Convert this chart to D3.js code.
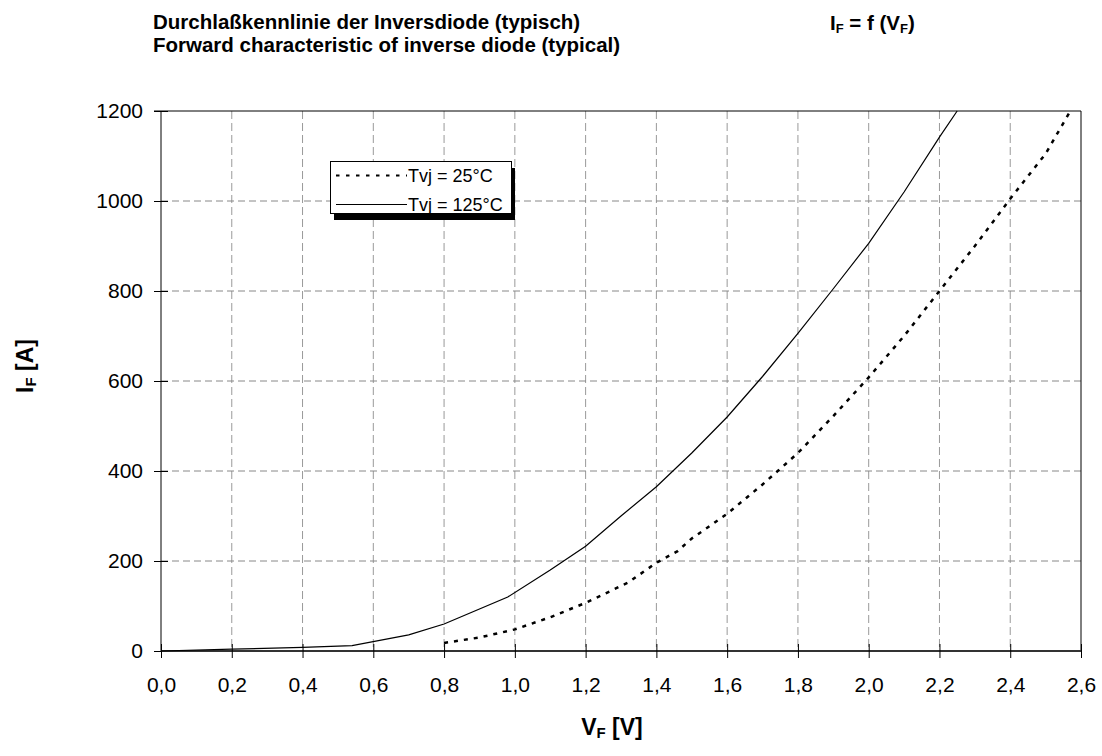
<!DOCTYPE html>
<html>
<head>
<meta charset="utf-8">
<script src="https://cdn.jsdelivr.net/npm/d3@7"></script>
<style>
  body { margin: 0; background: #fff; }
  text { font-family: "Liberation Sans", Arial, sans-serif; }
</style>
</head>
<body>
<div id="chart"></div>
<script>
// data (V in volts, I in amps)
const vf25 = [0.8, 0.9, 1.0, 1.1, 1.2, 1.32, 1.4, 1.46, 1.5, 1.6, 1.7, 1.8, 1.9, 2.0, 2.1, 2.2, 2.3, 2.4, 2.5, 2.57];
const if25 = [18, 30, 48, 75, 107, 152, 196, 222, 250, 305, 370, 440, 522, 608, 700, 800, 900, 1005, 1105, 1200];
const vf125 = [0, 0.2, 0.4, 0.54, 0.7, 0.8, 0.98, 1.1, 1.2, 1.3, 1.4, 1.5, 1.6, 1.7, 1.8, 1.9, 2.0, 2.1, 2.2, 2.25];
const if125 = [0, 4, 8, 12, 36, 60, 120, 180, 233, 300, 365, 440, 520, 610, 706, 805, 906, 1020, 1142, 1200];
const xTicks = [0, 0.2, 0.4, 0.6, 0.8, 1.0, 1.2, 1.4, 1.6, 1.8, 2.0, 2.2, 2.4, 2.6];
const yTicks = [0, 200, 400, 600, 800, 1000, 1200];
const legendLabels = ["Tvj = 25°C", "Tvj = 125°C"];

const W = 1102, H = 756;
const margin = { top: 111, right: 21, bottom: 105, left: 161 },
  width = W - margin.left - margin.right,
  height = H - margin.top - margin.bottom;

const svg = d3.select("#chart").append("svg")
  .attr("width", W).attr("height", H);

const g = svg.append("g")
  .attr("transform", `translate(${margin.left},${margin.top})`);

const x = d3.scaleLinear().domain([0, 2.6]).range([0, width]);
const y = d3.scaleLinear().domain([0, 1200]).range([height, 0]);

// grid
g.selectAll(".vgrid").data(xTicks.slice(1, -1)).join("line")
  .attr("x1", d => x(d)).attr("x2", d => x(d))
  .attr("y1", 0).attr("y2", height)
  .attr("stroke", "#999").attr("stroke-dasharray", "8,4");
g.selectAll(".hgrid").data(yTicks.slice(1, -1)).join("line")
  .attr("x1", 0).attr("x2", width)
  .attr("y1", d => y(d)).attr("y2", d => y(d))
  .attr("stroke", "#888").attr("stroke-dasharray", "7,4");

// frame
g.append("line").attr("x1", -7).attr("x2", width).attr("y1", 0).attr("y2", 0).attr("stroke", "#000");
g.append("line").attr("x1", width).attr("x2", width).attr("y1", 0).attr("y2", height).attr("stroke", "#000");

// axes
const yAxis = g.append("g")
  .call(d3.axisLeft(y).tickValues(yTicks).tickSize(7).tickPadding(11).tickFormat(d3.format("d")));
yAxis.select(".domain").attr("stroke", "#000").attr("d", `M0,0V${height}`);
yAxis.selectAll(".tick line").attr("x2", 7).attr("x1", -7).attr("stroke", "#000");
yAxis.selectAll("text").attr("font-size", 21).attr("fill", "#000")
  .style("font-family", '"Liberation Sans", Arial, sans-serif');

const xAxis = g.append("g")
  .attr("transform", `translate(0,${height})`)
  .call(d3.axisBottom(x).tickValues(xTicks).tickSize(7).tickPadding(19)
    .tickFormat(d => d3.format(".1f")(d).replace(".", ",")));
xAxis.select(".domain").attr("stroke", "#333").attr("stroke-width", 2.2).attr("d", `M0,0H${width}`);
xAxis.selectAll(".tick line").attr("y1", -7).attr("y2", 7).attr("stroke", "#000");
xAxis.selectAll("text").attr("font-size", 21).attr("fill", "#000")
  .style("font-family", '"Liberation Sans", Arial, sans-serif');

// curves
const line = d3.line().x(d => x(d[0])).y(d => y(d[1]));
const pts25 = d3.zip(vf25, if25);
const pts125 = d3.zip(vf125, if125);

g.append("path").datum(pts125)
  .attr("d", line).attr("fill", "none")
  .attr("stroke", "#000").attr("stroke-width", 1.2);

g.append("path").datum(pts25)
  .attr("d", line).attr("fill", "none")
  .attr("stroke", "#000").attr("stroke-width", 2.5)
  .attr("stroke-dasharray", "4,6");

// legend
const lg = svg.append("g").attr("transform", "translate(330,161)");
lg.append("rect").attr("x", 4).attr("y", 7).attr("width", 181).attr("height", 52).attr("fill", "#000");
lg.append("rect").attr("x", 0.5).attr("y", 0.5).attr("width", 181).attr("height", 52)
  .attr("fill", "#fff").attr("stroke", "#000");
lg.append("line").attr("x1", 6).attr("x2", 77).attr("y1", 14.5).attr("y2", 14.5)
  .attr("stroke", "#000").attr("stroke-width", 2).attr("stroke-dasharray", "3.5,6.5");
lg.append("line").attr("x1", 6).attr("x2", 77).attr("y1", 43.5).attr("y2", 43.5)
  .attr("stroke", "#000").attr("stroke-width", 1);
lg.selectAll(".lt").data(legendLabels).join("text")
  .attr("x", 78).attr("y", (d, i) => 21 + i * 28.5)
  .attr("font-size", 18).text(d => d);

// titles
const t = svg.append("g").attr("font-weight", "bold").attr("font-size", 20.5);
t.append("text").attr("x", 153).attr("y", 29).text("Durchlaßkennlinie der Inversdiode (typisch)");
t.append("text").attr("x", 153).attr("y", 52).text("Forward characteristic of inverse diode (typical)");
const f = t.append("text").attr("x", 830).attr("y", 30);
f.append("tspan").text("I");
f.append("tspan").attr("font-size", 13).attr("dy", 3).text("F");
f.append("tspan").attr("dy", -3).text(" = f (V");
f.append("tspan").attr("font-size", 13).attr("dy", 3).text("F");
f.append("tspan").attr("dy", -3).text(")");

// axis titles
const xl = svg.append("text").attr("x", 612).attr("y", 735)
  .attr("text-anchor", "middle").attr("font-weight", "bold").attr("font-size", 23);
xl.append("tspan").text("V");
xl.append("tspan").attr("font-size", 15).attr("dy", 3).text("F");
xl.append("tspan").attr("dy", -3).text(" [V]");

const yl = svg.append("text").attr("transform", "translate(33,366) rotate(-90)")
  .attr("text-anchor", "middle").attr("font-weight", "bold").attr("font-size", 23);
yl.append("tspan").text("I");
yl.append("tspan").attr("font-size", 15).attr("dy", 3).text("F");
yl.append("tspan").attr("dy", -3).text(" [A]");
</script>
</body>
</html>
